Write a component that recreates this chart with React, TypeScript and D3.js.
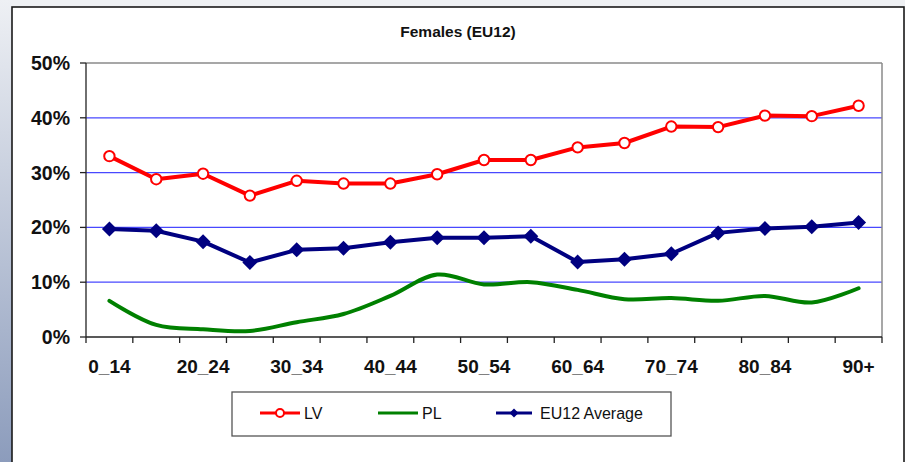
import React from "react";
import * as d3 from "d3";

const categories = ["0_14","15_19","20_24","25_29","30_34","35_39","40_44","45_49","50_54","55_59","60_64","65_69","70_74","75_79","80_84","85_89","90+"];
const lvValues = [33.0,28.8,29.8,25.8,28.5,28.0,28.0,29.7,32.3,32.3,34.6,35.4,38.4,38.3,40.4,40.3,42.2];
const plValues = [6.6,2.2,1.4,1.1,2.7,4.2,7.5,11.4,9.6,10.0,8.6,6.9,7.1,6.6,7.5,6.3,8.9];
const euValues = [19.7,19.4,17.4,13.6,15.9,16.2,17.3,18.1,18.1,18.4,13.7,14.2,15.2,19.0,19.8,20.1,20.9];
const yTicks = [0,10,20,30,40,50];
const title = "Females (EU12)";
const legendLabels = ["LV","PL","EU12 Average"];

const W = 905, H = 462;
const plot = { left: 86, right: 882, top: 63, bottom: 337 };
const RED = "#ff0000", GREEN = "#008000", NAVY = "#000080";
const FONT = "'Liberation Sans', Arial, sans-serif";

export default function App() {
  const x = d3.scaleBand<string>().domain(categories).range([plot.left, plot.right]);
  const y = d3.scaleLinear().domain([0, 50]).range([plot.bottom, plot.top]);
  const cx = (i: number) => (x(categories[i]) as number) + x.bandwidth() / 2;
  const straight = d3.line<number>().x((_, i) => cx(i)).y((v) => y(v));
  const smooth = d3.line<number>().x((_, i) => cx(i)).y((v) => y(v)).curve(d3.curveCatmullRom.alpha(0.5));
  const tickXs = categories.map((c) => x(c) as number).concat([plot.right]);
  const diamond = (px: number, py: number, r: number) => `M${px},${py - r}L${px + r},${py}L${px},${py + r}L${px - r},${py}Z`;

  const legY = 413;
  return (
    <svg width={W} height={H} style={{ position: "absolute", left: 0, top: 0 }} fontFamily={FONT}>
      <defs>
        <linearGradient id="leftbg" x1="0" y1="0" x2="0" y2="1">
          <stop offset="0" stopColor="#eef0f4" />
          <stop offset="1" stopColor="#8c9cbc" />
        </linearGradient>
      </defs>
      <rect x={0} y={0} width={W} height={H} fill="#eef0f3" />
      <rect x={0} y={0} width={12} height={H} fill="url(#leftbg)" />
      <rect x={12} y={7} width={892} height={H} fill="#ffffff" stroke="#1a1a1a" strokeWidth={1.6} />
      <text x={458} y={37} textAnchor="middle" fontWeight="bold" fontSize={15.5} fill="#111">{title}</text>

      {/* gridlines */}
      {yTicks.filter((t) => t > 0 && t < 50).map((t) => (
        <line key={t} x1={plot.left} x2={plot.right} y1={y(t)} y2={y(t)} stroke="#4848ff" strokeWidth={1.3} />
      ))}
      <line x1={plot.left} x2={plot.right} y1={y(50)} y2={y(50)} stroke="#8a8a8a" strokeWidth={1.5} />
      <line x1={plot.right} x2={plot.right} y1={plot.top} y2={plot.bottom} stroke="#8a8a8a" strokeWidth={1.5} />

      {/* axes */}
      <line x1={plot.left} x2={plot.left} y1={plot.top} y2={plot.bottom} stroke="#222" strokeWidth={1.3} />
      <line x1={plot.left} x2={plot.right} y1={plot.bottom} y2={plot.bottom} stroke="#222" strokeWidth={1.3} />
      {yTicks.map((t) => (
        <g key={t}>
          <line x1={plot.left - 6} x2={plot.left} y1={y(t)} y2={y(t)} stroke="#222" strokeWidth={1.3} />
          <text x={70} y={y(t)} dy="0.36em" textAnchor="end" fontWeight="bold" fontSize={19.5} fill="#111">{t}%</text>
        </g>
      ))}
      {tickXs.map((tx, i) => (
        <line key={i} x1={tx} x2={tx} y1={plot.bottom} y2={plot.bottom + 6} stroke="#222" strokeWidth={1.3} />
      ))}
      {categories.map((c, i) => i % 2 === 0 ? (
        <text key={c} x={cx(i)} y={373} textAnchor="middle" fontWeight="bold" fontSize={19} fill="#111">{c}</text>
      ) : null)}

      {/* series */}
      <path d={smooth(plValues) as string} fill="none" stroke={GREEN} strokeWidth={4} strokeLinecap="round" />
      <path d={straight(euValues) as string} fill="none" stroke={NAVY} strokeWidth={4} strokeLinejoin="round" />
      {euValues.map((v, i) => <path key={i} d={diamond(cx(i), y(v), 7.5)} fill={NAVY} />)}
      <path d={straight(lvValues) as string} fill="none" stroke={RED} strokeWidth={4} strokeLinejoin="round" />
      {lvValues.map((v, i) => <circle key={i} cx={cx(i)} cy={y(v)} r={5.2} fill="#fff" stroke={RED} strokeWidth={2} />)}

      {/* legend */}
      <rect x={232} y={392} width={439} height={44} fill="#fff" stroke="#555" strokeWidth={1.3} />
      <line x1={260} x2={300} y1={legY} y2={legY} stroke={RED} strokeWidth={3} />
      <circle cx={280} cy={legY} r={4} fill="#fff" stroke={RED} strokeWidth={2} />
      <text x={304} y={legY} dy="0.36em" fontSize={16} fill="#111">{legendLabels[0]}</text>
      <line x1={378} x2={418} y1={legY} y2={legY} stroke={GREEN} strokeWidth={3} />
      <text x={422} y={legY} dy="0.36em" fontSize={16} fill="#111">{legendLabels[1]}</text>
      <line x1={496} x2={532} y1={legY} y2={legY} stroke={NAVY} strokeWidth={3} />
      <path d={diamond(514, legY, 4.5)} fill={NAVY} />
      <text x={540} y={legY} dy="0.36em" fontSize={16} fill="#111">{legendLabels[2]}</text>
    </svg>
  );
}
